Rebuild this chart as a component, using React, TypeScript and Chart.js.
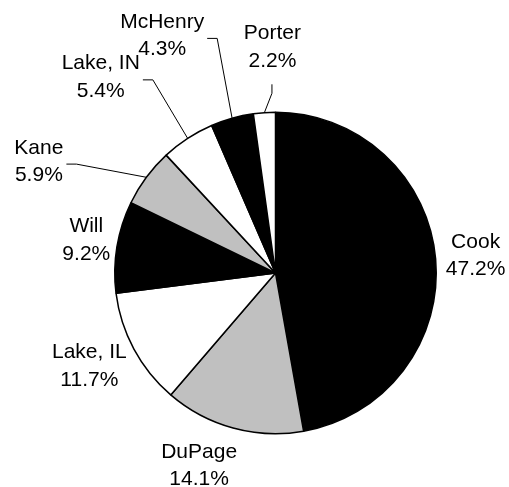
import React, { useEffect, useRef } from "react";
import { Chart, registerables } from "chart.js";

Chart.register(...registerables);

const categories = ["Cook", "DuPage", "Lake, IL", "Will", "Kane", "Lake, IN", "McHenry", "Porter"];
const shares = [47.2, 14.1, 11.7, 9.2, 5.9, 5.4, 4.3, 2.2];
const percentLabels = ["47.2%", "14.1%", "11.7%", "9.2%", "5.9%", "5.4%", "4.3%", "2.2%"];
const sliceColors = ["#000000", "#c0c0c0", "#ffffff", "#000000", "#c0c0c0", "#ffffff", "#000000", "#ffffff"];

// label block centre, in units of the pie radius, relative to the pie centre
const labelOffsets: number[][] = [
  [1.245, -0.109],
  [-0.475, 1.199],
  [-1.158, 0.581],
  [-1.177, -0.205],
  [-1.472, -0.693],
  [-1.087, -1.217],
  [-0.705, -1.475],
  [-0.019, -1.404],
];
const leaderKinds = ["none", "none", "none", "none", "right", "right", "right", "bottom"];

const FONT = "21px 'Liberation Sans', Arial, sans-serif";
const LINE_H = 27.5;

const labelPlugin = {
  id: "outsideLabels",
  afterDatasetsDraw(chart: any) {
    const ctx = chart.ctx as CanvasRenderingContext2D;
    const meta = chart.getDatasetMeta(0);
    ctx.save();
    ctx.font = FONT;
    ctx.fillStyle = "#000";
    ctx.textAlign = "center";
    ctx.textBaseline = "middle";
    meta.data.forEach((el: any, i: number) => {
      const { x, y, outerRadius, startAngle, endAngle } = el.getProps(
        ["x", "y", "outerRadius", "startAngle", "endAngle"],
        true
      );
      const R = outerRadius;
      const cx = x + labelOffsets[i][0] * R;
      const cy = y + labelOffsets[i][1] * R;
      const l1 = categories[i];
      const l2 = percentLabels[i];
      ctx.fillText(l1, cx, cy - LINE_H / 2);
      ctx.fillText(l2, cx, cy + LINE_H / 2);

      const kind = leaderKinds[i];
      if (kind === "none") return;
      const mid = (startAngle + endAngle) / 2;
      const ex = x + Math.cos(mid) * R;
      const ey = y + Math.sin(mid) * R;
      ctx.beginPath();
      ctx.strokeStyle = "#000";
      ctx.lineWidth = 1;
      if (kind === "right") {
        const w = Math.max(ctx.measureText(l1).width, ctx.measureText(l2).width);
        const endX = cx + w / 2 + 3;
        const ly = cy + 2.5;
        ctx.moveTo(ex, ey);
        ctx.lineTo(endX + 10, ly);
        ctx.lineTo(endX, ly);
      } else {
        const lx = cx - 0.5;
        ctx.moveTo(ex, ey);
        ctx.lineTo(lx, cy + 46);
        ctx.lineTo(lx, cy + 37);
      }
      ctx.stroke();
    });
    ctx.restore();
  },
};

export default function App() {
  const canvasRef = useRef<HTMLCanvasElement | null>(null);

  useEffect(() => {
    if (!canvasRef.current) return;
    const chart = new Chart(canvasRef.current, {
      type: "pie",
      data: {
        labels: categories,
        datasets: [
          {
            data: shares,
            backgroundColor: sliceColors,
            borderColor: "#000000",
            borderWidth: 1.5,
          },
        ],
      },
      options: {
        responsive: false,
        animation: false,
        events: [],
        layout: { padding: { left: 114, top: 111.5, right: 72, bottom: 52.5 } },
        plugins: {
          legend: { display: false },
          tooltip: { enabled: false },
        },
      },
      plugins: [labelPlugin],
    });
    return () => chart.destroy();
  }, []);

  return (
    <div style={{ position: "absolute", left: 0, top: 0, width: 509, height: 487, background: "#fff" }}>
      <canvas ref={canvasRef} width={509} height={487} />
    </div>
  );
}
